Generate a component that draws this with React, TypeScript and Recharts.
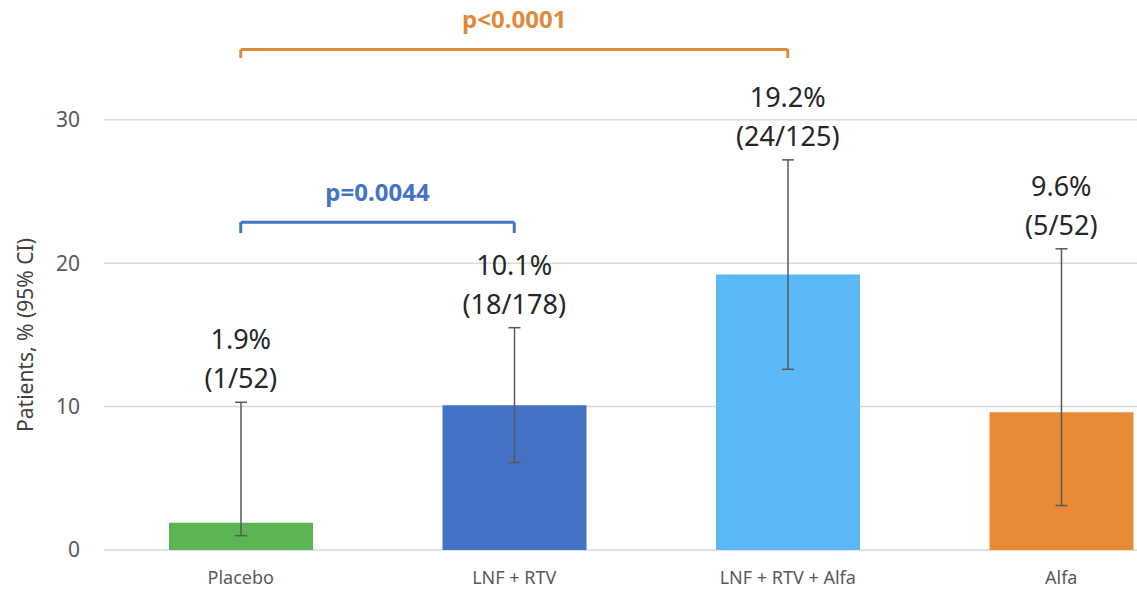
import React from 'react';
import { ComposedChart, Bar, Line, XAxis, YAxis, CartesianGrid, ErrorBar, Cell, LabelList, ReferenceLine } from 'recharts';

const categories = ['Placebo', 'LNF + RTV', 'LNF + RTV + Alfa', 'Alfa'];
const values = [1.9, 10.1, 19.2, 9.6];
const ciLow = [1.0, 6.1, 12.6, 3.1];
const ciHigh = [10.3, 15.5, 27.2, 21.0];
const pctLabels = ['1.9%', '10.1%', '19.2%', '9.6%'];
const countLabels = ['(1/52)', '(18/178)', '(24/125)', '(5/52)'];
const barColors = ['#5AB552', '#4472C4', '#5DB8F7', '#E98B35'];
const yTicks = [0, 10, 20, 30];

const blueBracket = { from: 'Placebo', to: 'LNF + RTV', y: 22.85, tail: 22.1, label: 'p=0.0044', color: '#4472C4' };
const orangeBracket = { from: 'Placebo', to: 'LNF + RTV + Alfa', y: 34.9, tail: 34.3, label: 'p<0.0001', color: '#E08A3A' };

const data = categories.map((c, i) => ({
  name: c,
  value: values[i],
  hi: ciHigh[i],
  err: [values[i] - ciLow[i], ciHigh[i] - values[i]],
}));

const FONT = '"Noto Sans", sans-serif';

const TopLabel = (props: any) => {
  const { x, y, index } = props;
  return (
    <text textAnchor="middle" fill="#262626" fontSize={27} fontFamily={FONT}>
      <tspan x={x} y={y - 63 + 10}>{pctLabels[index]}</tspan>
      <tspan x={x} y={y - 24 + 10}>{countLabels[index]}</tspan>
    </text>
  );
};

const YLabel = () => (
  <text x={25} y={335} transform="rotate(-90 25 335)" textAnchor="middle" dominantBaseline="central" fill="#404040" fontSize={21} fontFamily={FONT}>
    Patients, % (95% CI)
  </text>
);

const bracket = (b: typeof blueBracket) => [
  <ReferenceLine key={b.label + 'h'} segment={[{ x: b.from, y: b.y }, { x: b.to, y: b.y }]} stroke={b.color} strokeWidth={3}
    label={{ value: b.label, position: 'top', offset: 21, fill: b.color, fontSize: 24, fontWeight: 700, fontFamily: FONT }} />,
  <ReferenceLine key={b.label + 'l'} segment={[{ x: b.from, y: b.y }, { x: b.from, y: b.tail }]} stroke={b.color} strokeWidth={3} />,
  <ReferenceLine key={b.label + 'r'} segment={[{ x: b.to, y: b.y }, { x: b.to, y: b.tail }]} stroke={b.color} strokeWidth={3} />,
];

export default function App() {
  return (
    <div style={{ position: 'absolute', left: 0, top: 0, width: 1137, height: 593, overflow: 'hidden', background: '#fff' }}>
      <ComposedChart width={1198} height={593} data={data} margin={{ top: 48, right: 0, bottom: 13, left: 0 }} style={{ fontFamily: FONT }}>
        <CartesianGrid vertical={false} stroke="#D9D9D9" strokeWidth={1.5} horizontalValues={yTicks} />
        <XAxis dataKey="name" axisLine={false} tickLine={false} tickSize={6} tickMargin={15} height={30}
          tick={{ fill: '#595959', fontSize: 18, fontFamily: FONT }} />
        <YAxis domain={[0, 35]} ticks={yTicks} width={104} axisLine={false} tickLine={false} tickSize={6} tickMargin={18}
          tick={{ fill: '#595959', fontSize: 21, fontFamily: FONT }} label={<YLabel />} allowDataOverflow />
        <Bar dataKey="value" barSize={144} isAnimationActive={false}>
          {data.map((d, i) => <Cell key={d.name} fill={barColors[i]} />)}
          <ErrorBar dataKey="err" stroke="#595959" strokeWidth={1.5} width={6} />
        </Bar>
        <Line dataKey="hi" stroke="none" dot={false} activeDot={false} isAnimationActive={false}>
          <LabelList dataKey="hi" content={<TopLabel />} />
        </Line>
        {bracket(blueBracket)}
        {bracket(orangeBracket)}
      </ComposedChart>
    </div>
  );
}
